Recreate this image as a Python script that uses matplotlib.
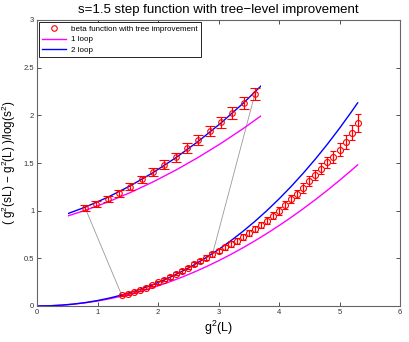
import matplotlib
matplotlib.use('Agg')
import matplotlib.pyplot as plt
from matplotlib.lines import Line2D
from matplotlib.patches import ConnectionPatch

plt.rcParams['font.family'] = ['Liberation Sans', 'DejaVu Sans']
plt.rcParams['mathtext.fontset'] = 'custom'
plt.rcParams['mathtext.rm'] = 'Liberation Sans'
plt.rcParams['mathtext.it'] = 'Liberation Sans:italic'

# measured step function (tree-level improved)
g2 = [1.4, 1.5, 1.6, 1.7, 1.8, 1.9, 2.0, 2.1, 2.2, 2.3,
      2.4, 2.5, 2.6, 2.7, 2.8, 2.9, 3.0, 3.1, 3.2, 3.3,
      3.4, 3.5, 3.6, 3.7, 3.8, 3.9, 4.0, 4.1, 4.2, 4.3,
      4.4, 4.5, 4.6, 4.7, 4.8, 4.9, 5.0, 5.1, 5.2, 5.3]
beta = [0.114, 0.128, 0.147, 0.168, 0.193, 0.221, 0.249, 0.276, 0.304, 0.338,
        0.369, 0.403, 0.436, 0.472, 0.508, 0.543, 0.577, 0.616, 0.651, 0.682,
        0.721, 0.763, 0.805, 0.847, 0.895, 0.948, 0.997, 1.062, 1.120, 1.175,
        1.238, 1.312, 1.375, 1.438, 1.508, 1.567, 1.637, 1.724, 1.819, 1.917]
beta_err = [0.011, 0.011, 0.012, 0.013, 0.013, 0.014, 0.015, 0.016, 0.017, 0.018,
            0.019, 0.020, 0.021, 0.022, 0.023, 0.024, 0.025, 0.026, 0.027, 0.029,
            0.030, 0.031, 0.033, 0.034, 0.036, 0.038, 0.040, 0.042, 0.044, 0.046,
            0.048, 0.051, 0.054, 0.057, 0.060, 0.063, 0.068, 0.074, 0.082, 0.095]

# perturbative curves
g2_curve = [0.0, 0.2, 0.4, 0.6, 0.8, 1.0, 1.2, 1.4, 1.6, 1.8, 2.0, 2.2, 2.4, 2.6,
            2.8, 3.0, 3.2, 3.4, 3.6, 3.8, 4.0, 4.2, 4.4, 4.6, 4.8, 5.0, 5.2, 5.3]
one_loop = [0.0, 0.0021, 0.0084, 0.0190, 0.0337, 0.0527, 0.0759, 0.1033, 0.1349,
            0.1707, 0.2108, 0.2551, 0.3036, 0.3563, 0.4132, 0.4743, 0.5396, 0.6092,
            0.6830, 0.7610, 0.8432, 0.9296, 1.0203, 1.1151, 1.2142, 1.3175, 1.4250,
            1.4803]
two_loop = [0.0, 0.0021, 0.0087, 0.0199, 0.0359, 0.0571, 0.0835, 0.1153, 0.1528,
            0.1962, 0.2458, 0.3016, 0.3640, 0.4331, 0.5091, 0.5923, 0.6828, 0.7810,
            0.8869, 1.0008, 1.1229, 1.2534, 1.3926, 1.5405, 1.6975, 1.8638, 2.0395,
            2.1309]

n_inset = 16  # first points repeated in the blown-up inset

fig = plt.figure(figsize=(4.09, 3.42), dpi=100)
ax = fig.add_axes([37 / 409, 36 / 342, 363 / 409, 286 / 342])

ax.plot(g2_curve, one_loop, color='#ff00ff', lw=1.0, zorder=2)
ax.plot(g2_curve, two_loop, color='#0000ff', lw=1.0, zorder=2)
ax.errorbar(g2, beta, yerr=beta_err, fmt='o', ms=4.3, mfc='none', mec='#ff0000',
            mew=0.8, ecolor='#ff0000', elinewidth=0.9, capsize=2.2, zorder=3)

ax.set_xlim(0, 6)
ax.set_ylim(0, 3)
ax.set_xticks([0, 1, 2, 3, 4, 5, 6])
ax.set_yticks([0, 0.5, 1, 1.5, 2, 2.5, 3])
ax.set_yticklabels(['0', '0.5', '1', '1.5', '2', '2.5', '3'])
ax.tick_params(direction='in', length=3, width=0.6, top=True, right=True,
               labelsize=5.5, colors='0.2', pad=2)
for s in ax.spines.values():
    s.set_color('0.4')
    s.set_linewidth(0.8)

ax.set_title('s=1.5 step function with tree\u2212level improvement', fontsize=9.5, pad=5)
ax.set_xlabel('g$^2$(L)', fontsize=9, labelpad=2)
ax.set_ylabel('( g$^2$(sL) \u2212 g$^2$(L) )/log(s$^2$)', fontsize=8.5, labelpad=4)

handles = [Line2D([], [], ls='none', marker='o', ms=4, mfc='none', mec='#ff0000', mew=0.8),
           Line2D([], [], color='#ff00ff', lw=1.0),
           Line2D([], [], color='#0000ff', lw=1.0)]
leg = ax.legend(handles, ['beta function with tree improvement', '1 loop', '2 loop'],
                loc='upper left', fontsize=5.8, fancybox=False, framealpha=1,
                edgecolor='black', borderaxespad=0.3, handlelength=3.0,
                handletextpad=0.6, labelspacing=0.35, borderpad=0.35)
leg.get_frame().set_linewidth(0.6)

# blown-up inset of the small-coupling region
ax_in = fig.add_axes([68 / 409, 125.4 / 342, 192.6 / 409, 132.5 / 342])
ax_in.axis('off')
ax_in.set_xlim(1.25, 2.95)
ax_in.set_ylim(0.08, 0.58)
ax_in.plot(g2_curve, one_loop, color='#ff00ff', lw=1.0)
ax_in.plot(g2_curve, two_loop, color='#0000ff', lw=1.0)
ax_in.errorbar(g2[:n_inset], beta[:n_inset], yerr=beta_err[:n_inset], fmt='o', ms=4,
               mfc='none', mec='#ff0000', mew=0.8, ecolor='#ff0000', elinewidth=0.9,
               capsize=3.5, clip_on=False)

for i in [0, n_inset - 1]:
    con = ConnectionPatch(xyA=(g2[i], beta[i]), coordsA=ax_in.transData,
                          xyB=(g2[i], beta[i]), coordsB=ax.transData,
                          color='0.6', lw=0.6, zorder=1)
    ax.add_artist(con)

fig.savefig('out.png', dpi=100)
